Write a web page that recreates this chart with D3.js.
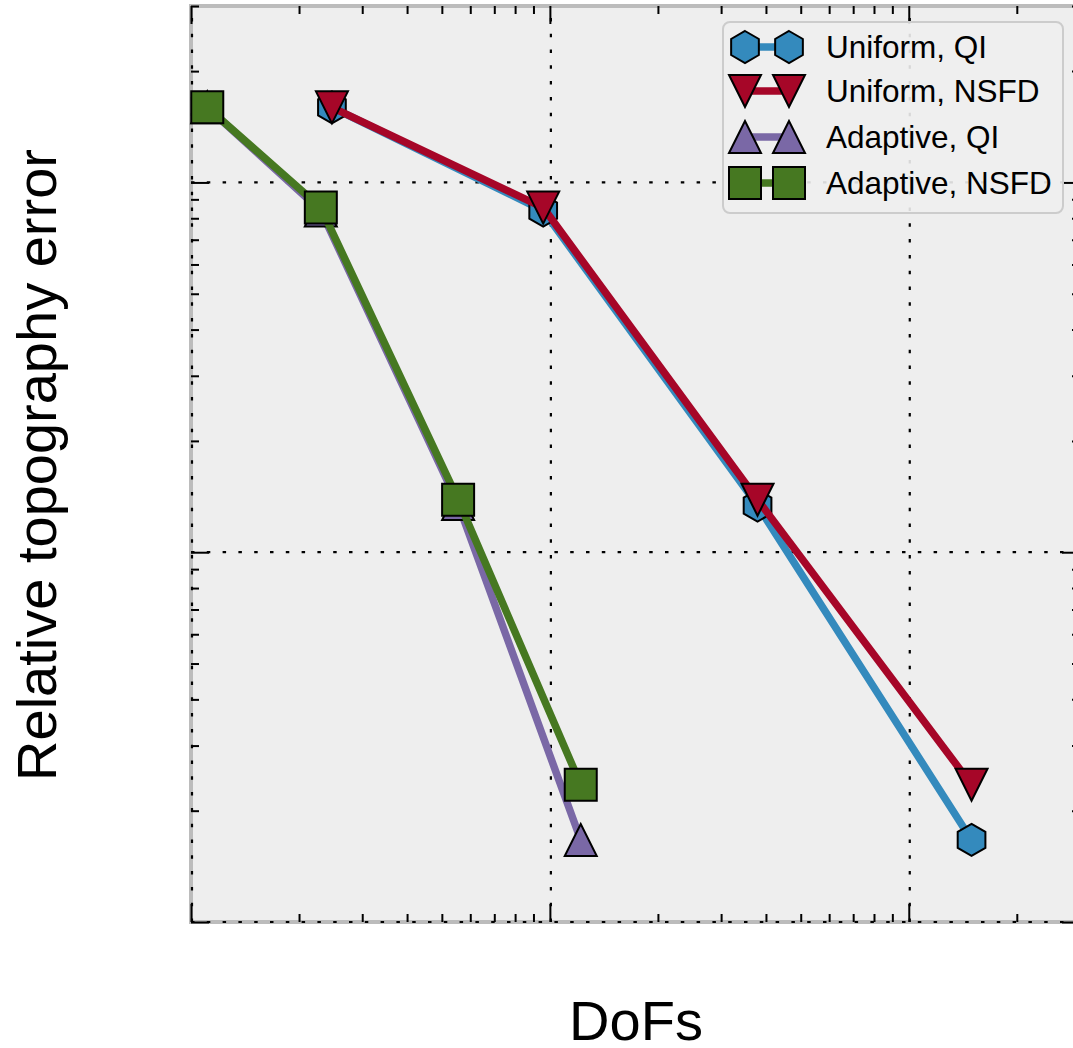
<!DOCTYPE html>
<html>
<head>
<meta charset="utf-8">
<script src="https://cdn.jsdelivr.net/npm/d3@7"></script>
<style>
  html, body { margin: 0; padding: 0; background: #ffffff; }
  svg { display: block; }
  text { font-family: "Liberation Sans", Arial, Helvetica, sans-serif; fill: #000; }
</style>
</head>
<body>
<svg id="chart" width="1073" height="1048"></svg>
<script>
// Degrees of freedom for the uniform and adaptive refinement sequences
const dofsUniform  = [247, 958, 3790, 14960];
const dofsAdaptive = [111, 230, 555, 1219];

// Relative topography error per refinement step
const errUniformQI    = [0.1596, 0.0839, 0.01337, 0.001667];
const errUniformNSFD  = [0.1596, 0.0855, 0.01387, 0.00235];
const errAdaptiveQI   = [0.1596, 0.0839, 0.01350, 0.001667];
const errAdaptiveNSFD = [0.1596, 0.0855, 0.01387, 0.00235];

const seriesNames  = ["Uniform, QI", "Uniform, NSFD", "Adaptive, QI", "Adaptive, NSFD"];
const seriesColors = ["#348ABD", "#A60628", "#7A68A6", "#467821"];
const seriesShapes = ["hexagon", "triangleDown", "triangleUp", "square"];

const xDomain = [1e2, 3e4];
const yDomain = [1e-3, 3e-1];
const xMajor = [1e2, 1e3, 1e4];
const yMajor = [1e-3, 1e-2, 1e-1];

const xLabel = "DoFs";
const yLabel = "Relative topography error";

const series = [
  { name: seriesNames[0], color: seriesColors[0], shape: seriesShapes[0], xs: dofsUniform,  ys: errUniformQI },
  { name: seriesNames[1], color: seriesColors[1], shape: seriesShapes[1], xs: dofsUniform,  ys: errUniformNSFD },
  { name: seriesNames[2], color: seriesColors[2], shape: seriesShapes[2], xs: dofsAdaptive, ys: errAdaptiveQI },
  { name: seriesNames[3], color: seriesColors[3], shape: seriesShapes[3], xs: dofsAdaptive, ys: errAdaptiveNSFD }
];

// Plot frame
const frameLeft = 191, frameRight = 1080, frameTop = 6, frameBottom = 922;
const svg = d3.select("#chart");

const x = d3.scaleLog().domain(xDomain).range([frameLeft, frameRight]);
const y = d3.scaleLog().domain(yDomain).range([frameBottom, frameTop]);

// Marker path generators, centred on 0,0 with size s (full extent)
function markerPath(shape, s) {
  const h = s / 2;
  if (shape === "hexagon") {
    const pts = d3.range(6).map(k => {
      const a = -Math.PI / 2 + k * Math.PI / 3;
      return [h * Math.cos(a), h * Math.sin(a)];
    });
    return "M" + pts.map(p => p.join(",")).join("L") + "Z";
  }
  if (shape === "triangleDown") return `M0,${h}L${-h},${-h}L${h},${-h}Z`;
  if (shape === "triangleUp") return `M0,${-h}L${-h},${h}L${h},${h}Z`;
  return `M${-h},${-h}L${h},${-h}L${h},${h}L${-h},${h}Z`;
}
const MS = 32;

// Background
svg.append("rect")
  .attr("x", frameLeft).attr("y", frameTop)
  .attr("width", frameRight - frameLeft).attr("height", frameBottom - frameTop)
  .attr("fill", "#eeeeee");

// Spines
const spineG = svg.append("g");
spineG.append("line").attr("x1", frameLeft).attr("x2", frameLeft).attr("y1", frameTop - 2).attr("y2", frameBottom + 2);
spineG.append("line").attr("x1", frameLeft - 2).attr("x2", frameRight + 2).attr("y1", frameTop).attr("y2", frameTop);
spineG.append("line").attr("x1", frameLeft - 2).attr("x2", frameRight + 2).attr("y1", frameBottom).attr("y2", frameBottom);
spineG.append("line").attr("x1", frameRight).attr("x2", frameRight).attr("y1", frameTop - 2).attr("y2", frameBottom + 2);
spineG.selectAll("line").attr("stroke", "#bcbcbc").attr("stroke-width", 4);

// Dotted grid at major decades
const grid = svg.append("g").attr("stroke", "#000").attr("stroke-width", 2.2)
  .attr("stroke-dasharray", "3.5,12.3");
grid.selectAll(".gx").data(xMajor).join("line")
  .attr("x1", d => x(d) + 1).attr("x2", d => x(d) + 1)
  .attr("y1", frameBottom).attr("y2", frameTop);
grid.selectAll(".gy").data(yMajor).join("line")
  .attr("x1", frameLeft).attr("x2", frameRight)
  .attr("y1", d => y(d)).attr("y2", d => y(d));

// Series: line first, then markers, in series order
const line = d3.line().x(d => x(d[0])).y(d => y(d[1]));
series.forEach(s => {
  const pts = s.xs.map((v, i) => [v, s.ys[i]]);
  const g = svg.append("g");
  g.append("path").datum(pts)
    .attr("d", line)
    .attr("fill", "none")
    .attr("stroke", s.color)
    .attr("stroke-width", 7.5)
    .attr("stroke-linejoin", "round");
  g.selectAll("path.m").data(pts).join("path")
    .attr("class", "m")
    .attr("transform", d => `translate(${x(d[0])},${y(d[1])})`)
    .attr("d", markerPath(s.shape, MS))
    .attr("fill", s.color)
    .attr("stroke", "#000")
    .attr("stroke-width", 2)
    .attr("stroke-linejoin", "miter");
});

// Inward ticks on all four sides, drawn with d3 axes
const xAll = x.ticks().filter(v => v >= xDomain[0] && v <= xDomain[1]);
const yAll = y.ticks().filter(v => v >= yDomain[0] && v <= yDomain[1]);
const isMajor = v => Math.abs(Math.log10(v) - Math.round(Math.log10(v))) < 1e-9;
const xMinor = xAll.filter(v => !isMajor(v));
const yMinor = yAll.filter(v => !isMajor(v));

function tickAxis(axisFn, scale, values, size, tx, ty) {
  const g = svg.append("g").attr("transform", `translate(${tx},${ty})`)
    .call(axisFn(scale).tickValues(values).tickSize(size).tickSizeOuter(0).tickFormat(""));
  g.select(".domain").remove();
  g.selectAll(".tick line").attr("stroke", "#000").attr("stroke-width", 2);
  return g;
}
// bottom (ticks point up), top (ticks point down), left (right), right (left)
tickAxis(d3.axisBottom, x, xMinor, -8, 0, frameBottom);
tickAxis(d3.axisBottom, x, xMajor, -18, 0, frameBottom);
tickAxis(d3.axisTop, x, xMinor, -8, 0, frameTop);
tickAxis(d3.axisTop, x, xMajor, -18, 0, frameTop);
tickAxis(d3.axisLeft, y, yMinor, -8, frameLeft, 0);
tickAxis(d3.axisLeft, y, yMajor, -18, frameLeft, 0);
tickAxis(d3.axisRight, y, yMinor, -8, frameRight, 0);
tickAxis(d3.axisRight, y, yMajor, -18, frameRight, 0);

// Axis labels
svg.append("text")
  .attr("x", 636).attr("y", 1040)
  .attr("text-anchor", "middle")
  .style("font-size", "56px")
  .text(xLabel);
svg.append("text")
  .attr("transform", `translate(56,465) rotate(-90)`)
  .attr("text-anchor", "middle")
  .style("font-size", "56px")
  .text(yLabel);

// Legend
const legend = svg.append("g");
legend.append("rect")
  .attr("x", 723).attr("y", 22)
  .attr("width", 340).attr("height", 191)
  .attr("rx", 7).attr("ry", 7)
  .attr("fill", "#eeeeee").attr("fill-opacity", 0.9)
  .attr("stroke", "#cccccc").attr("stroke-width", 2);
const rowY = [47, 91, 137, 183];
series.forEach((s, i) => {
  const row = legend.append("g").attr("transform", `translate(0,${rowY[i]})`);
  row.append("line").attr("x1", 745).attr("x2", 789).attr("y1", 0).attr("y2", 0)
    .attr("stroke", s.color).attr("stroke-width", 7.5);
  [745, 789].forEach(cx => {
    row.append("path")
      .attr("transform", `translate(${cx},0)`)
      .attr("d", markerPath(s.shape, MS))
      .attr("fill", s.color).attr("stroke", "#000").attr("stroke-width", 2);
  });
  row.append("text")
    .attr("x", 826).attr("y", 11)
    .style("font-size", "31.5px")
    .text(s.name);
});
</script>
</body>
</html>
